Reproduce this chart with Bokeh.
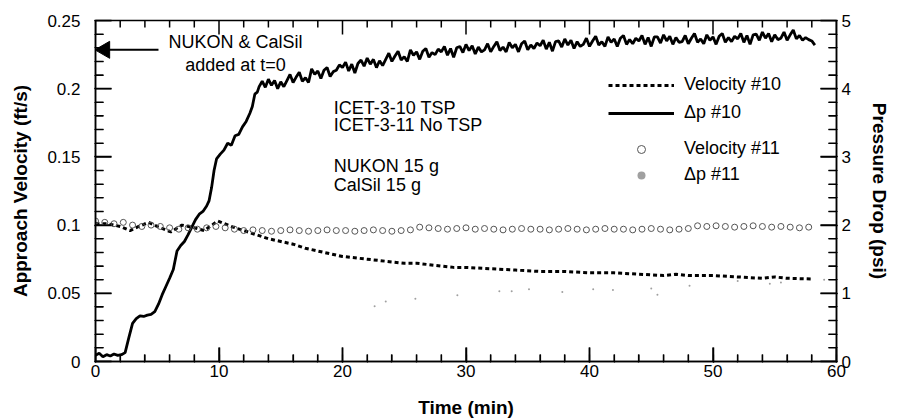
import math
from bokeh.plotting import figure
from bokeh.models import (Range1d, LinearAxis, SingleIntervalTicker, CustomJSTickFormatter,
                          Label, Legend, LegendItem)
from bokeh.embed import file_html
from bokeh.resources import INLINE

FONT = "Liberation Sans"

# ---------------- data ----------------
# Velocity #10 (ft/s)
t_vel10 = [0, 1, 2, 2.8, 3.5, 4.3, 5, 6.1, 7, 8, 8.8, 9.9, 11, 12, 13, 14, 15, 16, 17, 18,
           19, 20, 21, 22, 23, 24, 25, 26, 27, 28, 29, 30, 32, 34, 36, 38, 40, 42, 44, 46,
           47, 48, 50, 52, 54, 55, 56, 58]
vel10 = [0.101, 0.101, 0.099, 0.096, 0.099, 0.102, 0.099, 0.095, 0.100, 0.098,
         0.096, 0.103, 0.099, 0.096, 0.093, 0.090, 0.088, 0.086, 0.083, 0.081,
         0.079, 0.077, 0.076, 0.075, 0.074, 0.073, 0.072, 0.072, 0.071, 0.070,
         0.069, 0.069, 0.068, 0.067, 0.066, 0.066, 0.065, 0.065, 0.064, 0.063,
         0.064, 0.063, 0.063, 0.062, 0.061, 0.062, 0.061, 0.0605]

# Velocity #11 (ft/s)
t_vel11 = [0, 0.75, 1.5, 2.25, 3, 3.75, 4.5, 5.25, 6, 6.75, 7.5, 8.25, 9, 9.75,
           10.5, 11.25, 12, 12.75, 13.5, 14.25, 15, 15.75, 16.5, 17.25, 18, 18.75, 19.5,
           20.25, 21, 21.75, 22.5, 23.25, 24, 24.75, 25.5,
           26.25, 27, 27.75, 28.5, 29.25, 30, 30.75, 31.5, 32.25, 33, 33.75, 34.5, 35.25,
           36, 36.75, 37.5, 38.25, 39, 39.75, 40.5, 41.25, 42, 42.75, 43.5, 44.25, 45,
           45.75, 46.5, 47.25, 48,
           48.75, 49.5, 50.25, 51, 51.75, 52.5, 53.25, 54, 54.75, 55.5, 56.25, 57, 57.75]
vel11 = [0.103, 0.102, 0.101, 0.102, 0.100, 0.099, 0.100, 0.099, 0.098, 0.097, 0.098, 0.097, 0.098, 0.099,
         0.098, 0.097, 0.096, 0.0965, 0.096, 0.0955, 0.096, 0.0965, 0.096, 0.0955, 0.096, 0.0965, 0.096,
         0.096, 0.0955, 0.096, 0.0965, 0.096, 0.0955, 0.096, 0.0965,
         0.0985, 0.098, 0.0975, 0.097, 0.0975, 0.098, 0.097, 0.0975, 0.097, 0.0965, 0.097, 0.0975, 0.097,
         0.097, 0.0965, 0.097, 0.0975, 0.097, 0.0965, 0.097, 0.0975, 0.097, 0.097, 0.0965, 0.097, 0.0975,
         0.097, 0.0965, 0.097, 0.0975,
         0.0995, 0.099, 0.0995, 0.099, 0.0985, 0.099, 0.0995, 0.099, 0.0985, 0.099, 0.0985, 0.098, 0.0985]

# Delta p #10 (psi)
t_dp10 = [0, 0.3, 0.6, 0.9, 1.2, 1.5, 1.8, 2.1, 2.4, 2.7,
          3.0, 3.3, 3.6, 3.9, 4.2, 4.5, 4.8, 5.1, 5.4, 5.7,
          6.0, 6.3, 6.6, 6.9, 7.2, 7.5, 7.8, 8.1, 8.4, 8.7,
          9.0, 9.2, 9.4, 9.6, 9.8,
          10.1, 10.4, 10.7, 11.0, 11.3, 11.6, 11.9, 12.2, 12.5,
          12.7, 12.9, 13.1, 13.25,
          13.5, 13.75, 14, 14.25, 14.5, 14.75, 15, 15.25,
          15.5, 15.75, 16, 16.25, 16.5, 16.75, 17, 17.25,
          17.5, 17.75, 18, 18.25, 18.5, 18.75, 19, 19.25,
          19.5, 19.75, 20, 20.25, 20.5, 20.75, 21, 21.25,
          21.5, 21.75, 22, 22.25, 22.5, 22.75, 23, 23.25,
          23.5, 23.75, 24, 24.25, 24.5, 24.75, 25, 25.25,
          25.5, 25.75, 26, 26.25, 26.5, 26.75, 27, 27.25,
          27.5, 27.75, 28, 28.25, 28.5, 28.75, 29, 29.25,
          29.5, 29.75, 30, 30.25, 30.5, 30.75, 31, 31.25,
          31.5, 31.75, 32, 32.25, 32.5, 32.75, 33, 33.25,
          33.5, 33.75, 34, 34.25, 34.5, 34.75, 35, 35.25,
          35.5, 35.75, 36, 36.25, 36.5, 36.75, 37, 37.25,
          37.5, 37.75, 38, 38.25, 38.5, 38.75, 39, 39.25,
          39.5, 39.75, 40, 40.25, 40.5, 40.75, 41, 41.25,
          41.5, 41.75, 42, 42.25, 42.5, 42.75, 43, 43.25,
          43.5, 43.75, 44, 44.25, 44.5, 44.75, 45, 45.25,
          45.5, 45.75, 46, 46.25, 46.5, 46.75, 47, 47.25,
          47.5, 47.75, 48, 48.25, 48.5, 48.75, 49, 49.25,
          49.5, 49.75, 50, 50.25, 50.5, 50.75, 51, 51.25,
          51.5, 51.75, 52, 52.25, 52.5, 52.75, 53, 53.25,
          53.5, 53.75, 54, 54.25, 54.5, 54.75, 55, 55.25,
          55.5, 55.75, 56, 56.25, 56.5, 56.75, 57, 57.25,
          57.5, 57.75, 58, 58.25]
dp10 = [0.09, 0.12, 0.07, 0.10, 0.08, 0.11, 0.09, 0.10, 0.13, 0.35,
        0.56, 0.63, 0.67, 0.66, 0.68, 0.69, 0.73, 0.84, 0.98, 1.10,
        1.22, 1.35, 1.62, 1.70, 1.76, 1.86, 1.97, 2.08, 2.16, 2.20,
        2.28, 2.36, 2.55, 2.80, 2.97,
        3.04, 3.10, 3.20, 3.17, 3.31, 3.33, 3.44, 3.52, 3.64,
        3.74, 3.92, 3.95, 4.03,
        4.11, 4.02, 4.14, 4.05, 4.12, 4.00, 4.10, 4.03,
        4.12, 4.21, 4.09, 4.17, 4.24, 4.11, 4.16, 4.09,
        4.29, 4.21, 4.26, 4.15, 4.27, 4.31, 4.18, 4.25,
        4.27, 4.35, 4.31, 4.39, 4.26, 4.36, 4.23, 4.37,
        4.42, 4.33, 4.45, 4.36, 4.43, 4.31, 4.41, 4.34,
        4.43, 4.52, 4.40, 4.48, 4.55, 4.42, 4.47, 4.40,
        4.57, 4.49, 4.54, 4.43, 4.55, 4.59, 4.46, 4.53,
        4.50, 4.58, 4.54, 4.62, 4.49, 4.59, 4.46, 4.60,
        4.62, 4.53, 4.65, 4.56, 4.63, 4.51, 4.61, 4.54,
        4.57, 4.66, 4.54, 4.62, 4.69, 4.56, 4.61, 4.54,
        4.68, 4.60, 4.65, 4.54, 4.66, 4.70, 4.57, 4.64,
        4.59, 4.67, 4.63, 4.71, 4.58, 4.68, 4.55, 4.69,
        4.70, 4.61, 4.73, 4.64, 4.71, 4.59, 4.69, 4.62,
        4.65, 4.74, 4.62, 4.70, 4.77, 4.64, 4.69, 4.62,
        4.76, 4.68, 4.73, 4.62, 4.74, 4.78, 4.65, 4.72,
        4.66, 4.74, 4.70, 4.78, 4.65, 4.75, 4.62, 4.76,
        4.76, 4.67, 4.79, 4.70, 4.77, 4.65, 4.75, 4.68,
        4.69, 4.78, 4.66, 4.74, 4.81, 4.68, 4.73, 4.66,
        4.79, 4.71, 4.76, 4.65, 4.77, 4.81, 4.68, 4.75,
        4.69, 4.77, 4.73, 4.81, 4.68, 4.78, 4.65, 4.79,
        4.80, 4.71, 4.83, 4.74, 4.81, 4.69, 4.79, 4.72,
        4.74, 4.83, 4.71, 4.79, 4.86, 4.73, 4.78, 4.71,
        4.75, 4.72, 4.70, 4.64]

# Delta p #11 (psi) - faint sparse dots
t_dp11 = [22.6, 23.5, 25.9, 29.3, 32.7, 33.7, 35.1, 37.8, 40.3, 41.9, 45.0, 45.5,
          48.1, 52.0, 54.6, 55.5, 59.0]
dp11 = [0.81, 0.88, 0.92, 0.97, 1.03, 1.03, 1.06, 1.02, 1.06, 1.05, 1.07, 0.98,
        1.11, 1.18, 1.14, 1.16, 1.20]

x_title = "Time (min)"
y_title = "Approach Velocity (ft/s)"
y2_title = "Pressure Drop (psi)"

X_MAX, Y_MAX, Y2_MAX = 60, 0.25, 5
x_major = [i for i in range(0, 61, 10)]
x_minor = [i for i in range(0, 61, 2) if i % 10]
y_major = [i * 0.05 for i in range(0, 6)]
y_minor = [i * 0.01 for i in range(0, 26) if i % 5]
y2_major = [i for i in range(0, 6)]
y2_minor = [i * 0.2 for i in range(0, 26) if i % 5]

# ---------------- layout ----------------
W, H = 897, 420
BL, BR, BT, BB = 95, 61, 20, 57
FRAME_W, FRAME_H = W - BL - BR, H - BT - BB

p = figure(width=W, height=H, x_range=Range1d(0, X_MAX), y_range=Range1d(0, Y_MAX),
           output_backend="svg", toolbar_location=None,
           min_border_left=BL, min_border_right=BR, min_border_top=BT, min_border_bottom=BB)
p.extra_y_ranges = {"dp": Range1d(0, Y2_MAX)}
p.xgrid.visible = False
p.ygrid.visible = False
p.outline_line_color = "black"
p.outline_line_width = 1.5


def style(ax, tick_in=14):
    ax.axis_line_color = "black"
    ax.axis_line_width = 1.5
    ax.major_tick_in = tick_in
    ax.major_tick_out = 1
    ax.minor_tick_in = tick_in // 2
    ax.minor_tick_out = 1
    ax.major_tick_line_color = "black"
    ax.minor_tick_line_color = "black"
    ax.major_tick_line_width = 1.5
    ax.minor_tick_line_width = 1.2
    ax.major_label_text_font = FONT
    ax.major_label_text_font_size = "17px"
    ax.major_label_text_color = "black"
    ax.axis_label_text_font = FONT
    ax.axis_label_text_font_size = "19px"
    ax.axis_label_text_font_style = "bold"
    ax.axis_label_text_color = "black"


xa = p.xaxis[0]
xa.ticker = SingleIntervalTicker(interval=10, num_minor_ticks=5)
xa.axis_label = x_title
style(xa, 14)
xa.major_label_standoff = 2
xa.axis_label_standoff = 17

ya = p.yaxis[0]
ya.ticker = SingleIntervalTicker(interval=0.05, num_minor_ticks=5)
ya.formatter = CustomJSTickFormatter(code="return String(Number(tick.toFixed(3)));")
ya.axis_label = y_title
style(ya, 16)
ya.major_label_standoff = 14
ya.axis_label_standoff = 13

ra = LinearAxis(y_range_name="dp", ticker=SingleIntervalTicker(interval=1, num_minor_ticks=5),
                axis_label=y2_title)
style(ra, 16)
ra.major_label_standoff = 4
ra.axis_label_standoff = 15
p.add_layout(ra, "right")

# ---------------- inward tick marks drawn as thin filled rectangles ----------------
px_x = X_MAX / FRAME_W      # data units per pixel, x
px_y = Y_MAX / FRAME_H      # data units per pixel, y (left scale)
px_y2 = Y2_MAX / FRAME_H    # data units per pixel, y (right scale)
TKF = dict(fill_color="black", line_color=None, width_units="screen", height_units="screen")


def vticks(xs, edge_y, length, sign):
    p.rect(x=xs, y=[edge_y + sign * length / 2 * px_y] * len(xs), width=1.5, height=length, **TKF)


def hticks(ys, edge_x, length, sign, **kw):
    p.rect(x=[edge_x + sign * length / 2 * px_x] * len(ys), y=ys, width=length, height=1.5, **TKF, **kw)


vticks(x_major, 0, 14, 1)
vticks(x_minor, 0, 7, 1)
vticks(x_major, Y_MAX, 14, -1)
vticks(x_minor, Y_MAX, 7, -1)
hticks(y_major, 0, 16, 1)
hticks(y_minor, 0, 8, 1)
hticks(y2_major, X_MAX, 16, -1, y_range_name="dp")
hticks(y2_minor, X_MAX, 8, -1, y_range_name="dp")

# ---------------- series ----------------
r_v10 = p.line(t_vel10, vel10, line_color="black", line_width=3, line_dash="4 3")
r_dp10 = p.line(t_dp10, dp10, y_range_name="dp", line_color="black", line_width=2.8)
r_v11 = p.scatter(t_vel11, vel11, marker="circle", size=6, fill_color=None,
                  line_color="#555555", line_width=1)
r_dp11 = p.scatter(t_dp11, dp11, y_range_name="dp", marker="circle", size=2,
                   fill_color="#a0a0a0", line_color=None)

# ---------------- legends ----------------
common = dict(glyph_width=66, glyph_height=20, label_height=20, padding=0, margin=0,
              border_line_color=None, background_fill_alpha=0, label_text_font=FONT,
              label_text_font_size="18px", label_standoff=10, label_text_color="black")
leg1 = Legend(items=[LegendItem(label="Velocity #10", renderers=[r_v10]),
                     LegendItem(label="Δp #10", renderers=[r_dp10])],
              location=(513, 238), spacing=7, **common)
leg2 = Legend(items=[LegendItem(label="Velocity #11", renderers=[r_v11]),
                     LegendItem(label="Δp #11", renderers=[r_dp11])],
              location=(513, 176), spacing=5, **common)
p.add_layout(leg1)
p.add_layout(leg2)

# ---------------- annotations ----------------
def note(x, y, text, align="left"):
    p.add_layout(Label(x=x, y=y, text=text, text_font=FONT, text_font_size="18px",
                       text_align=align, text_baseline="middle", text_color="black"))

note(11.34, 0.2343, "NUKON & CalSil", "center")
note(11.34, 0.2177, "added at t=0", "center")
note(19.3, 0.1857, "ICET-3-10 TSP")
note(19.3, 0.1734, "ICET-3-11 No TSP")
note(19.3, 0.1436, "NUKON 15 g")
note(19.3, 0.1291, "CalSil 15 g")

# arrow pointing at the left axis: shaft + triangular head
ARROW_Y, ARROW_TAIL, HEAD_X = 0.2285, 5.1, 0.75
p.segment(x0=[HEAD_X], y0=[ARROW_Y], x1=[ARROW_TAIL], y1=[ARROW_Y], line_color="black", line_width=2)
p.scatter([HEAD_X], [ARROW_Y], marker="triangle", angle=math.pi / 2, size=17,
          fill_color="black", line_color="black")

open("out.html", "w").write(file_html(p, INLINE))
